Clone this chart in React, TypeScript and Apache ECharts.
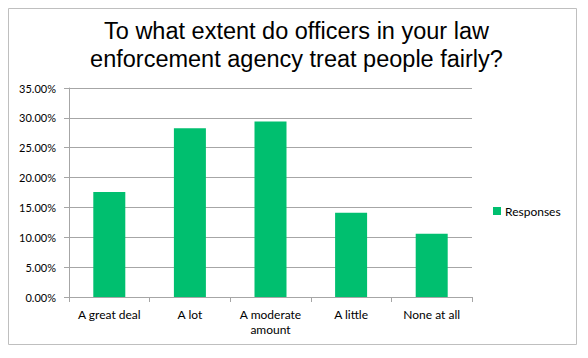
import React, { useEffect, useRef } from "react";
import * as echarts from "echarts";

const categories = ["A great deal", "A lot", "A moderate\namount", "A little", "None at all"];
const responses = [17.6, 28.25, 29.4, 14.1, 10.6];
const seriesName = "Responses";
const titleText = "To what extent do officers in your law\nenforcement agency treat people fairly?";

export default function App() {
  const ref = useRef<HTMLDivElement>(null);
  useEffect(() => {
    if (!ref.current) return;
    const chart = echarts.init(ref.current, null, { renderer: "svg" });
    chart.setOption({
      animation: false,
      backgroundColor: "#ffffff",
      title: {
        text: titleText,
        left: 283.5,
        textAlign: "center",
        top: 4,
        textStyle: {
          fontFamily: "Liberation Sans, Arial, sans-serif",
          fontSize: 23.5,
          fontWeight: "normal",
          color: "#000000",
          lineHeight: 28,
        },
      },
      graphic: [
        {
          type: "rect",
          shape: { x: 0.5, y: 0.5, width: 568, height: 336 },
          style: { fill: "none", stroke: "#bfbfbf", lineWidth: 1 },
          silent: true,
        },
      ],
      legend: {
        data: [seriesName],
        left: 480,
        top: 192,
        orient: "vertical",
        icon: "rect",
        itemWidth: 8,
        itemHeight: 8,
        itemGap: 4,
        textStyle: { fontFamily: "Lato, sans-serif", fontSize: 12, color: "#000000", padding: [0, 0, 0, -1] },
      },
      grid: { left: 61, top: 80, width: 403, height: 209, containLabel: false },
      xAxis: {
        type: "category",
        data: categories,
        axisLine: { lineStyle: { color: "#a6a6a6", width: 1 } },
        axisTick: { show: true, alignWithLabel: false, length: 5, lineStyle: { color: "#a6a6a6" } },
        axisLabel: {
          fontFamily: "Lato, sans-serif",
          fontSize: 12,
          color: "#000000",
          margin: 10,
          lineHeight: 15,
          interval: 0,
        },
      },
      yAxis: {
        type: "value",
        min: 0,
        max: 35,
        interval: 5,
        axisLine: { show: true, lineStyle: { color: "#a6a6a6", width: 1 } },
        axisTick: { show: true, length: 5, lineStyle: { color: "#a6a6a6" } },
        splitLine: { lineStyle: { color: "#a6a6a6", width: 1 } },
        axisLabel: {
          fontFamily: "Lato, sans-serif",
          fontSize: 11,
          color: "#000000",
          margin: 13,
          formatter: (v: number) => v.toFixed(2) + "%",
        },
      },
      series: [
        {
          name: seriesName,
          type: "bar",
          data: responses,
          barWidth: 32,
          itemStyle: { color: "#00BF6F" },
        },
      ],
    });
    return () => chart.dispose();
  }, []);
  return <div ref={ref} style={{ width: 580, height: 350 }} />;
}
